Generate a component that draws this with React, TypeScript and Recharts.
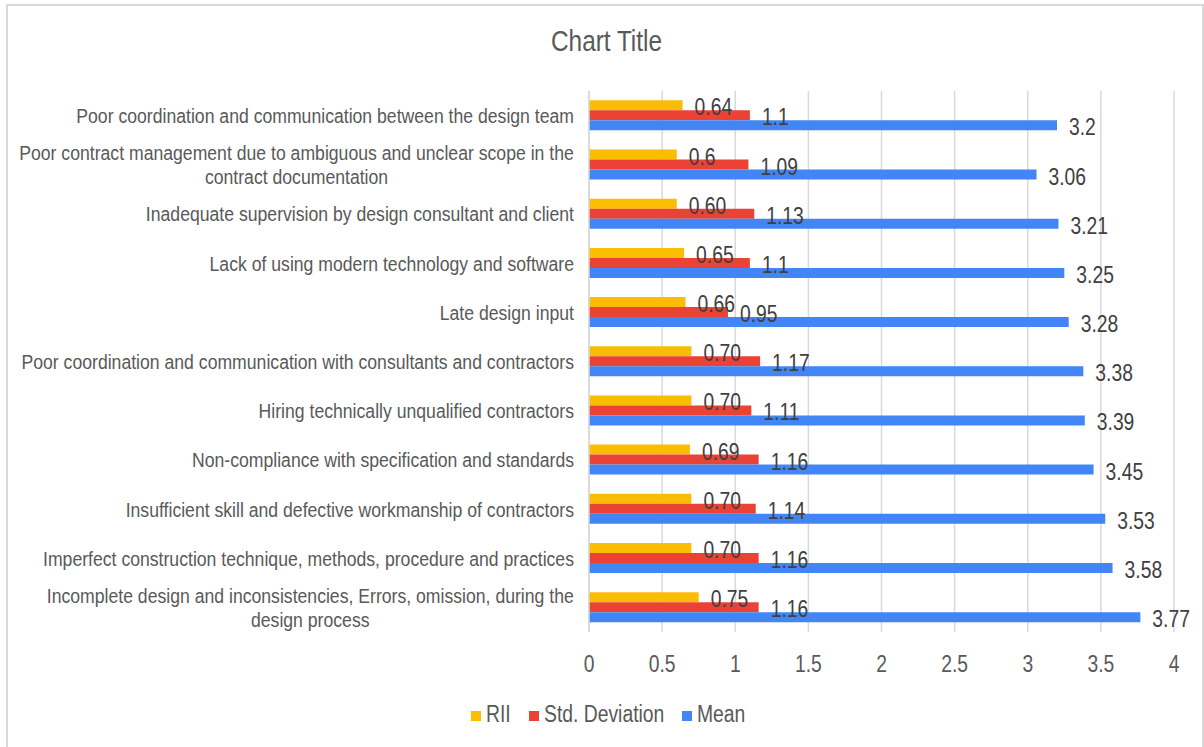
import React from 'react';
import { BarChart, Bar, XAxis, YAxis, CartesianGrid, LabelList } from 'recharts';

// categories, top to bottom
const factors = [
  'Poor coordination and communication between the design team',
  'Poor contract management due to ambiguous and unclear scope in the\ncontract documentation',
  'Inadequate supervision by design consultant and client',
  'Lack of using modern technology and software',
  'Late design input',
  'Poor coordination and communication with consultants and contractors',
  'Hiring technically unqualified contractors',
  'Non-compliance with specification and standards',
  'Insufficient skill and defective workmanship of contractors',
  'Imperfect construction technique, methods, procedure and practices',
  'Incomplete design and inconsistencies, Errors, omission, during the\ndesign process',
];

const rii = [0.64, 0.6, 0.6, 0.65, 0.66, 0.7, 0.7, 0.69, 0.7, 0.7, 0.75];
const riiText = ['0.64', '0.6', '0.60', '0.65', '0.66', '0.70', '0.70', '0.69', '0.70', '0.70', '0.75'];
const stdDev = [1.1, 1.09, 1.13, 1.1, 0.95, 1.17, 1.11, 1.16, 1.14, 1.16, 1.16];
const mean = [3.2, 3.06, 3.21, 3.25, 3.28, 3.38, 3.39, 3.45, 3.53, 3.58, 3.77];

const xTicks = [0, 0.5, 1, 1.5, 2, 2.5, 3, 3.5, 4];

// the reference font is a condensed sans; squeeze Liberation Sans to match
const FONT = "'Liberation Sans', Arial, sans-serif";
const SQUEEZE = 0.84;
const AXIS_COLOR = '#595959';
const LABEL_COLOR = '#404040';

const chartData = factors.map((f, i) => ({
  factor: f,
  rii: rii[i],
  riiText: riiText[i],
  std: stdDev[i],
  mean: mean[i],
}));

let canvasCtx: CanvasRenderingContext2D | null = null;
const measure = (text: string, size: number) => {
  if (!canvasCtx) canvasCtx = document.createElement('canvas').getContext('2d');
  if (!canvasCtx) return text.length * size * 0.5;
  canvasCtx.font = `${size}px ${FONT}`;
  return canvasCtx.measureText(text).width;
};

const CategoryTick = (props: any) => {
  const { x, y, payload } = props;
  const lines = String(payload.value).split('\n');
  const right = x - 7;
  const tf = `translate(${right},${y}) scale(${SQUEEZE},1)`;
  if (lines.length === 1) {
    return (
      <text transform={tf} x={0} y={0} dy={7.5} textAnchor="end" fontSize={21} fill={AXIS_COLOR} fontFamily={FONT}>
        {lines[0]}
      </text>
    );
  }
  const cx = -measure(lines[0], 21) / 2;
  return (
    <text transform={tf} x={cx} y={0} textAnchor="middle" fontSize={21} fill={AXIS_COLOR} fontFamily={FONT}>
      <tspan x={cx} dy={-4.5}>{lines[0]}</tspan>
      <tspan x={cx} dy={24}>{lines[1]}</tspan>
    </text>
  );
};

const NumberTick = (props: any) => {
  const { x, y, payload } = props;
  return (
    <text
      transform={`translate(${x},${y}) scale(${SQUEEZE},1)`}
      x={0}
      y={0}
      dy={16}
      textAnchor="middle"
      fontSize={23}
      fill={AXIS_COLOR}
      fontFamily={FONT}
    >
      {payload.value}
    </text>
  );
};

const ValueLabel = (props: any) => {
  const { x, y, width, height, value } = props;
  return (
    <text
      transform={`translate(${x + width + 12},${y + height / 2}) scale(${SQUEEZE},1)`}
      x={0}
      y={0}
      dy={10}
      fontSize={23}
      fill={LABEL_COLOR}
      fontFamily={FONT}
    >
      {value}
    </text>
  );
};

const legendItems = [
  { name: 'RII', color: '#FBBC04' },
  { name: 'Std. Deviation', color: '#EA4335' },
  { name: 'Mean', color: '#4285F4' },
];

const Squeezed = ({ text, size }: { text: string; size: number }) => (
  <span style={{ display: 'inline-block', width: measure(text, size) * SQUEEZE, whiteSpace: 'nowrap' }}>
    <span style={{ display: 'inline-block', fontSize: size, transform: `scaleX(${SQUEEZE})`, transformOrigin: 'left center' }}>
      {text}
    </span>
  </span>
);

export default function App() {
  return (
    <div style={{ position: 'absolute', left: 0, top: 0, width: 1204, height: 747, background: '#fff', overflow: 'hidden', fontFamily: FONT }}>
      <div style={{ position: 'absolute', left: 6, top: 4, width: 1194, height: 800, border: '2px solid #d9d9d9' }} />
      <div style={{ position: 'absolute', left: 0, top: 24, width: 1213, display: 'flex', justifyContent: 'center', color: AXIS_COLOR, lineHeight: '34px' }}>
        <Squeezed text="Chart Title" size={29} />
      </div>
      <div style={{ position: 'absolute', left: 0, top: 0 }}>
        <BarChart
          layout="vertical"
          width={1204}
          height={747}
          data={chartData}
          margin={{ top: 91, right: 30, left: 0, bottom: 75 }}
          barCategoryGap="19%"
          barGap={0}
        >
          <CartesianGrid horizontal={false} stroke="#d9d9d9" strokeWidth={1.5} />
          <XAxis
            type="number"
            domain={[0, 4]}
            ticks={xTicks}
            axisLine={false}
            tickLine={false}
            tickSize={0}
            tickMargin={24}
            height={40}
            interval={0}
            tick={<NumberTick />}
          />
          <YAxis
            type="category"
            dataKey="factor"
            width={589}
            axisLine={{ stroke: '#d9d9d9', strokeWidth: 1.5 }}
            tickLine={false}
            interval={0}
            tick={<CategoryTick />}
          />
          <Bar dataKey="rii" fill="#FBBC04" isAnimationActive={false}>
            <LabelList dataKey="riiText" content={<ValueLabel />} />
          </Bar>
          <Bar dataKey="std" fill="#EA4335" isAnimationActive={false}>
            <LabelList dataKey="std" content={<ValueLabel />} />
          </Bar>
          <Bar dataKey="mean" fill="#4285F4" isAnimationActive={false}>
            <LabelList dataKey="mean" content={<ValueLabel />} />
          </Bar>
        </BarChart>
      </div>
      <div style={{ position: 'absolute', left: 0, top: 700, width: 1217, display: 'flex', justifyContent: 'center', color: AXIS_COLOR, lineHeight: '28px' }}>
        {legendItems.map((it, i) => (
          <div key={it.name} style={{ display: 'flex', alignItems: 'center', marginLeft: i === 0 ? 0 : 18 }}>
            <span style={{ display: 'inline-block', width: 10, height: 10, background: it.color, marginRight: 5 }} />
            <Squeezed text={it.name} size={23} />
          </div>
        ))}
      </div>
    </div>
  );
}
